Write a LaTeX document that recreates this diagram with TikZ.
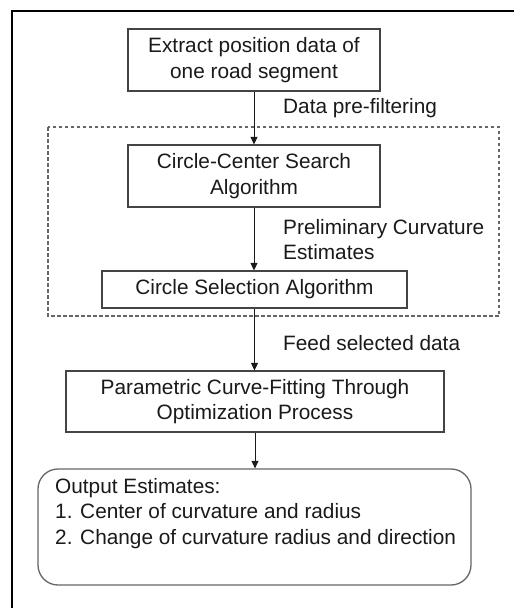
\documentclass[tikz,border=0pt]{standalone}
\usepackage{fontspec}
\setmainfont{Liberation Sans}
\usetikzlibrary{arrows.meta}
\definecolor{inkc}{HTML}{1A1A1A}
\definecolor{edgec}{HTML}{444444}
\definecolor{softedge}{HTML}{666666}
\tikzset{
  every node/.style={font=\fontsize{20.8}{25.5}\selectfont, text=inkc},
  stepbox/.style={draw=edgec, line width=1.2pt, rectangle, align=center, inner sep=0pt},
  outbox/.style={draw=softedge, line width=1.3pt, rounded corners=20pt, rectangle, inner sep=0pt},
  flow/.style={draw=inkc, line width=1pt, -{Triangle[length=7.5pt,width=7pt]}},
  note/.style={anchor=west, align=left, inner sep=0pt},
  groupbox/.style={draw=softedge, line width=1.1pt, dash pattern=on 3.5pt off 2.5pt},
}
\begin{document}
\begin{tikzpicture}[x=1pt, y=-1pt]
  \useasboundingbox (0,0) rectangle (514,608);
  \fill[white] (0,0) rectangle (514,608);

  % outer frame (top and left edges)
  \draw[black, line width=2pt] (514,11) -- (12,11) -- (12,608);

  % dashed group around the two search stages
  \draw[groupbox] (48,127) rectangle (499,316);

  % process steps
  \node[stepbox, minimum width=252pt, minimum height=62pt] (extract) at (254,60)
    {Extract position data of\\one road segment};
  \node[stepbox, minimum width=252pt, minimum height=62pt] (search) at (254,176)
    {Circle-Center Search\\Algorithm};
  \node[stepbox, minimum width=305pt, minimum height=37pt] (select) at (254.5,289.5)
    {Circle Selection Algorithm};
  \node[stepbox, minimum width=378pt, minimum height=61pt] (fit) at (255,401.5)
    {Parametric Curve-Fitting Through\\Optimization Process};
  \node[outbox, minimum width=433pt, minimum height=116pt] (out) at (254.5,527) {};
  \node[anchor=north west, align=left, inner sep=0pt] (outtext) at (55,478)
    {Output Estimates:\\1. Center of curvature and radius\\2. Change of curvature radius and direction};

  % connectors
  \draw[flow] (extract.south) -- (search.north);
  \draw[flow] (search.south) -- (search.south |- select.north);
  \draw[flow] (select.south) -- (select.south |- fit.north);
  \draw[flow] (fit.south) -- (fit.south |- out.north);

  % connector labels
  \node[note] (lblfilter) at (283,108) {Data pre-filtering};
  \node[note] (lblprelim) at (283,239.5) {Preliminary Curvature\\Estimates};
  \node[note] (lblfeed) at (283,343) {Feed selected data};
\end{tikzpicture}
\end{document}
